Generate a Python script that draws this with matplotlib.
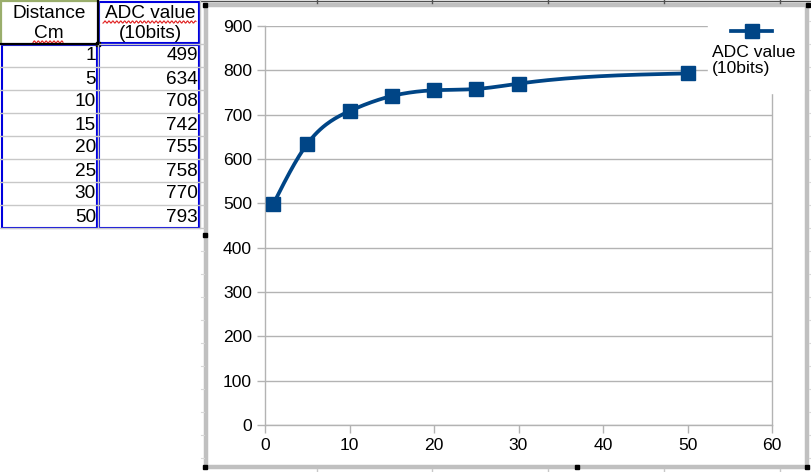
import matplotlib
matplotlib.use('Agg')
import matplotlib.pyplot as plt
import numpy as np
from matplotlib.patches import Rectangle

plt.rcParams['font.family'] = ['Liberation Sans', 'DejaVu Sans']

# data from the sheet
distance = [1, 5, 10, 15, 20, 25, 30, 50]
adc = [499, 634, 708, 742, 755, 758, 770, 793]
head_a = ['Distance', 'Cm']
head_b = ['ADC value', '(10bits)']
series_name = 'ADC value\n(10bits)'
xticks = [0, 10, 20, 30, 40, 50, 60]
yticks = [0, 100, 200, 300, 400, 500, 600, 700, 800, 900]

W, H = 811, 472
blue = '#004586'
grid = '#b3b3b3'
sheet = '#c8c8c8'


def spline(x, y, n=30):
    # natural cubic spline, only for the smooth line drawing
    x = np.asarray(x, float)
    y = np.asarray(y, float)
    k = len(x)
    h = np.diff(x)
    A = np.zeros((k, k))
    b = np.zeros(k)
    A[0, 0] = A[-1, -1] = 1
    for i in range(1, k - 1):
        A[i, i - 1] = h[i - 1]
        A[i, i] = 2 * (h[i - 1] + h[i])
        A[i, i + 1] = h[i]
        b[i] = 6 * ((y[i + 1] - y[i]) / h[i] - (y[i] - y[i - 1]) / h[i - 1])
    M = np.linalg.solve(A, b)
    xs, ys = [], []
    for i in range(k - 1):
        t = np.linspace(x[i], x[i + 1], n)
        a = (x[i + 1] - t) / h[i]
        c = (t - x[i]) / h[i]
        s = (M[i] * (x[i + 1] - t) ** 3 + M[i + 1] * (t - x[i]) ** 3) / (6 * h[i]) \
            + (y[i] - M[i] * h[i] ** 2 / 6) * a + (y[i + 1] - M[i + 1] * h[i] ** 2 / 6) * c
        xs.append(t)
        ys.append(s)
    return np.concatenate(xs), np.concatenate(ys)


fig = plt.figure(figsize=(W / 100, H / 100), dpi=100)

# spreadsheet background, pixel coords
bg = fig.add_axes([0, 0, 1, 1], zorder=0)
bg.set_xlim(0, W)
bg.set_ylim(H, 0)
bg.axis('off')

# top strip of the sheet
bg.plot([200, W], [1, 1], color='#505050', lw=1)
for cx in [317, 432, 548, 664, 780]:
    bg.plot([cx, cx], [0, 3], color='#505050', lw=1)
for cx in [317, 432, 548, 664, 780]:
    bg.plot([cx, cx], [469, H], color=sheet, lw=1)
# row marks beside the chart
for ry in np.arange(251, 470, 23):
    bg.plot([201, 204], [ry, ry], color='#d8d8d8', lw=0.8)
for ry in np.arange(21, 470, 23):
    bg.plot([809, W], [ry, ry], color='#d8d8d8', lw=0.8)

# table grid
row_y = [44 + 23 * i for i in range(len(distance) + 1)]
for ry in row_y:
    bg.plot([0, 204], [ry, ry], color=sheet, lw=1)
bg.plot([98, 98], [0, 228], color=sheet, lw=1)
bg.plot([200, 200], [0, 228], color=sheet, lw=1)

fs_t = 13.7
bg.text(49, 14, head_a[0], ha='center', va='center', fontsize=fs_t)
bg.text(49, 34, head_a[1], ha='center', va='center', fontsize=fs_t)
bg.text(150, 14, head_b[0], ha='center', va='center', fontsize=fs_t)
bg.text(150, 34, head_b[1], ha='center', va='center', fontsize=fs_t)
for i, (d, v) in enumerate(zip(distance, adc)):
    yc = 44 + 23 * i + 12
    bg.text(96, yc, str(d), ha='right', va='center', fontsize=fs_t)
    bg.text(198, yc, str(v), ha='right', va='center', fontsize=fs_t)

# spell check waves
wx = np.linspace(33, 63, 60)
bg.plot(wx, 42 + 1.1 * np.sin(wx * 1.6), color='#e02020', lw=0.8)
wx = np.linspace(103, 196, 160)
bg.plot(wx, 22 + 1.1 * np.sin(wx * 1.6), color='#e02020', lw=0.8)

# source range highlight
for (x0, y0, x1, y1) in [(2, 45, 97, 228), (99, 2, 199, 43), (99, 45, 199, 228)]:
    bg.add_patch(Rectangle((x0, y0), x1 - x0, y1 - y0, fill=False,
                           ec='#0000dd', lw=1.5))
# cell cursor
bg.plot([0.8, 0.8], [0, 44], color='#9aae6c', lw=1.6)
bg.plot([0, 98], [0.8, 0.8], color='#9aae6c', lw=1.6)
bg.plot([98, 98], [0, 44], color='black', lw=1.6)
bg.plot([0, 98], [44, 44], color='black', lw=1.6)
bg.add_patch(Rectangle((96, 42), 4, 4, color='black'))

# chart frame
bg.add_patch(Rectangle((206, 5), 601, 462, fc='white', ec='#c0c0c0', lw=3.2))
for hx, hy in [(205, 5), (808, 5), (205, 235), (205, 467), (807, 467), (577, 467)]:
    bg.add_patch(Rectangle((hx - 2, hy - 2), 4, 4, color='black', zorder=5))

# chart
ax = fig.add_axes([265 / W, 1 - 425 / H, 507 / W, 399 / H], zorder=1)
ax.set_facecolor('white')
sx, sy = spline(distance, adc)
ax.plot(sx, sy, color=blue, lw=2.7, zorder=3, solid_capstyle='round')
ax.plot(distance, adc, ls='none', marker='s', ms=10, color=blue, zorder=4)
ax.set_xlim(0, 60)
ax.set_ylim(0, 900)
ax.set_xticks(xticks)
ax.set_yticks(yticks)
ax.grid(True, axis='y', color=grid, lw=1)
ax.set_axisbelow(True)
for side in ['left', 'bottom', 'right']:
    ax.spines[side].set_color(grid)
    ax.spines[side].set_linewidth(1)
ax.spines['top'].set_visible(False)
ax.tick_params(axis='both', color=grid, length=5.8, width=1, labelsize=12.6,
               pad=3.5)

# legend, drawn in pixel coords on top
lg = fig.add_axes([0, 0, 1, 1], zorder=2)
lg.set_xlim(0, W)
lg.set_ylim(H, 0)
lg.axis('off')
lg.add_patch(Rectangle((708, 8), 95, 85, color='white'))
lg.plot([731, 772], [31, 31], color=blue, lw=2.7)
lg.plot([752], [31], marker='s', ms=10, color=blue)
lg.text(712, 45, series_name, ha='left', va='top', fontsize=12.6, linespacing=1.1)

fig.savefig('out.png', dpi=100)
